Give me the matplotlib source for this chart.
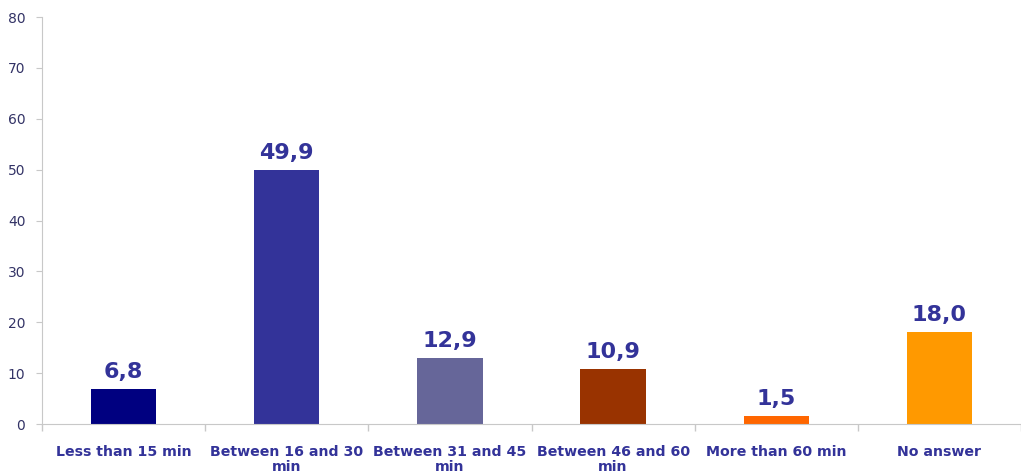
import numpy as np
from matplotlib import pyplot as plt

categories = ["Less than 15 min", "Between 16 and 30\nmin", "Between 31 and 45\nmin",
              "Between 46 and 60\nmin", "More than 60 min", "No answer"]
values = [6.8, 49.9, 12.9, 10.9, 1.5, 18.0]
colors = ["#000080", "#333399", "#666699", "#993300", "#FF6600", "#FF9900"]

fig = plt.figure(figsize=(10.21, 4.76), dpi=100)
ax = fig.add_axes([42 / 1021, 52 / 476, 979 / 1021, 407 / 476])

x = np.arange(len(categories))
ax.bar(x, values, width=0.4, color=colors, zorder=2)

for xi, v in zip(x, values):
    ax.annotate("{:.1f}".format(v).replace(".", ","), (xi, v), xytext=(0, 5),
                textcoords="offset points", ha="center", va="bottom",
                fontsize=16, fontweight="bold", color="#333399")

ax.set_xlim(-0.5, -0.5 + 979 / 165.6)
ax.set_ylim(0, 80)
ax.set_yticks(range(0, 81, 10))
ax.set_xticks(x)
ax.set_xticklabels(categories, fontsize=10.2, fontweight="bold", color="#333399",
                   linespacing=1.15)
ax.set_xticks(np.arange(-0.5, len(categories), 1), minor=True)
ax.tick_params(axis="x", which="major", length=0, pad=15)
ax.tick_params(axis="x", which="minor", length=5, color="#c8c8c8", width=1)
ax.tick_params(axis="y", length=4, color="#c8c8c8", labelsize=10, labelcolor="#333366", pad=8)

for side in ["top", "right"]:
    ax.spines[side].set_visible(False)
for side in ["left", "bottom"]:
    ax.spines[side].set_color("#c8c8c8")

plt.savefig("out.png", dpi=100)
